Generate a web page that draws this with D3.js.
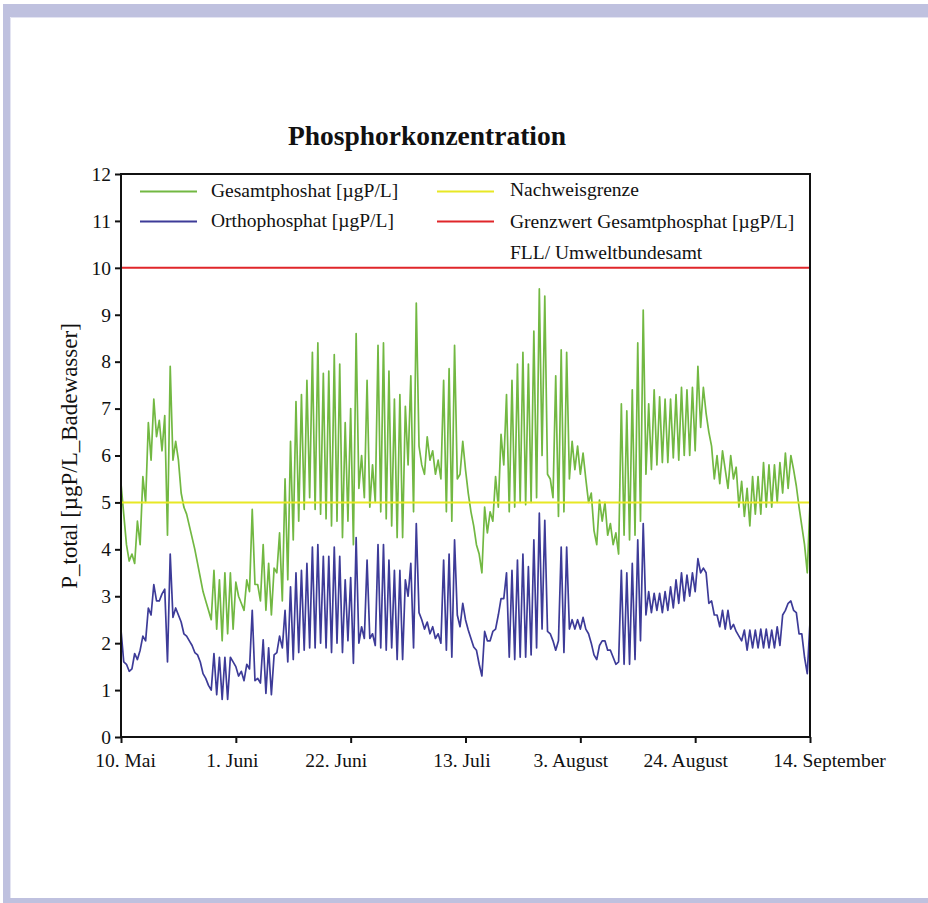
<!DOCTYPE html>
<html>
<head>
<meta charset="utf-8">
<script src="https://cdn.jsdelivr.net/npm/d3@7"></script>
<style>
  html, body { margin: 0; padding: 0; background: #fff; }
  svg { display: block; }
  text { font-family: "Liberation Serif", "Times New Roman", serif; fill: #111; }
</style>
</head>
<body>
<svg id="chart" width="928" height="903"></svg>
<script>
// ---------- data ----------
const title = "Phosphorkonzentration";
const yLabel = "P_total [µgP/L_Badewasser]";
const xTickDays = [0, 21, 42, 63, 84, 105, 126];
const xTickLabels = ["10. Mai", "1. Juni", "22. Juni", "13. Juli", "3. August", "24. August", "14. September"];
const yTicks = [0,1,2,3,4,5,6,7,8,9,10,11,12];
const stepDays = 0.5; // one reading every 12 hours, starting 10. Mai

// Gesamtphosphat [µgP/L], every 12 h
const gesamtphosphat = [
  5.4, 4.75, 4.1, 3.75, 3.9, 3.7, 4.6, 4.1, 5.55, 5.0,      // day 0-4.5
  6.7, 5.9, 7.2, 6.4, 6.75, 6.1, 6.85, 4.3, 7.9, 5.9,       // 5-9.5
  6.3, 5.9, 5.2, 4.9, 4.75, 4.5, 4.25, 4.0, 3.7, 3.4,       // 10-14.5
  3.1, 2.9, 2.7, 2.5, 3.55, 2.3, 3.35, 2.05, 3.5, 2.2,      // 15-19.5
  3.5, 2.3, 3.3, 3.0, 2.85, 2.7, 3.35, 3.1, 4.85, 3.25,     // 20-24.5
  3.25, 2.9, 4.1, 2.7, 3.7, 2.6, 3.6, 3.5, 4.35, 2.9,       // 25-29.5
  5.5, 3.35, 6.3, 4.2, 7.15, 4.6, 7.3, 4.85, 7.6, 5.1,      // 30-34.5
  8.2, 4.85, 8.4, 4.75, 7.75, 4.65, 7.8, 4.5, 8.15, 4.6,    // 35-39.5
  7.95, 4.25, 6.7, 4.6, 7.0, 4.1, 8.6, 5.3, 6.0, 5.1,       // 40-44.5
  7.6, 4.9, 5.8, 5.0, 8.35, 4.8, 8.4, 4.65, 7.8, 4.5,       // 45-49.5
  7.2, 4.25, 7.3, 4.25, 7.05, 5.8, 7.7, 4.8, 9.25, 6.2,     // 50-54.5
  5.8, 5.6, 6.4, 5.9, 6.1, 5.6, 5.9, 5.5, 7.6, 4.8,         // 55-59.5
  7.85, 4.6, 8.35, 5.5, 5.6, 6.3, 5.7, 5.2, 4.8, 4.5,       // 60-64.5
  4.1, 3.9, 3.5, 4.9, 4.35, 4.8, 4.6, 5.55, 4.9, 6.45,      // 65-69.5
  5.8, 7.3, 4.8, 7.6, 4.9, 7.95, 5.0, 8.2, 4.95, 7.95,      // 70-74.5
  5.0, 8.65, 5.1, 9.55, 6.0, 9.4, 5.6, 5.5, 5.1, 7.7,       // 75-79.5
  4.7, 8.25, 4.8, 8.2, 5.5, 6.3, 5.7, 6.2, 5.6, 6.05,       // 80-84.5
  5.5, 5.0, 5.2, 4.4, 4.1, 5.05, 4.6, 5.0, 4.3, 4.55,       // 85-89.5
  4.1, 4.35, 3.9, 7.1, 4.3, 6.95, 4.2, 7.4, 4.3, 8.4,       // 90-94.5
  4.6, 9.1, 5.6, 7.1, 5.7, 7.4, 5.8, 7.25, 5.85, 7.2,       // 95-99.5
  5.85, 7.2, 5.95, 7.3, 5.9, 7.45, 6.0, 7.4, 6.0, 7.45,     // 100-104.5
  6.1, 7.9, 6.6, 7.45, 6.9, 6.5, 6.2, 5.5, 6.0, 5.4,        // 105-109.5
  6.1, 5.7, 5.3, 6.0, 5.5, 5.75, 4.9, 5.45, 4.7, 5.3,       // 110-114.5
  4.5, 5.55, 4.75, 5.55, 4.75, 5.85, 4.9, 5.8, 4.9, 5.8,    // 115-119.5
  5.0, 5.85, 5.2, 6.05, 5.3, 6.0, 5.7, 5.35, 4.9, 4.5,      // 120-124.5
  4.1, 3.5, 5.0                                              // 125-126
];

// Orthophosphat [µgP/L], every 12 h
const orthophosphat = [
  2.28, 1.6, 1.55, 1.4, 1.45, 1.78, 1.65, 1.85, 2.15, 2.05, // day 0-4.5
  2.75, 2.6, 3.25, 2.9, 2.9, 3.05, 3.15, 1.6, 3.9, 2.55,    // 5-9.5
  2.75, 2.6, 2.45, 2.2, 2.15, 2.05, 1.95, 1.8, 1.75, 1.6,   // 10-14.5
  1.35, 1.25, 1.1, 1.0, 1.78, 0.9, 1.7, 0.8, 1.7, 0.8,      // 15-19.5
  1.7, 1.6, 1.5, 1.3, 1.4, 1.2, 1.55, 1.45, 2.7, 1.2,       // 20-24.5
  1.25, 1.15, 2.07, 0.93, 1.9, 0.9, 1.75, 1.8, 2.15, 1.9,   // 25-29.5
  2.7, 1.6, 3.2, 1.65, 3.5, 1.8, 3.55, 1.85, 3.7, 1.9,      // 30-34.5
  4.05, 1.9, 4.1, 2.0, 3.85, 1.9, 3.85, 1.8, 4.05, 2.0,     // 35-39.5
  3.85, 1.8, 3.35, 2.05, 3.4, 1.57, 4.25, 2.0, 2.35, 2.1,   // 40-44.5
  3.77, 2.1, 2.2, 1.95, 4.1, 1.9, 4.1, 1.85, 3.77, 1.9,     // 45-49.5
  3.55, 1.65, 3.55, 1.65, 3.35, 3.0, 3.7, 1.9, 4.55, 2.65,  // 50-54.5
  2.5, 2.3, 2.45, 2.2, 2.35, 2.1, 2.2, 2.0, 3.77, 1.85,     // 55-59.5
  3.9, 1.7, 4.2, 2.6, 2.35, 2.85, 2.5, 2.28, 2.1, 1.92,     // 60-64.5
  1.85, 1.55, 1.3, 2.25, 2.05, 2.05, 2.25, 2.3, 2.6, 2.95,  // 65-69.5
  2.95, 3.5, 1.7, 3.55, 1.65, 3.77, 1.7, 3.9, 1.7, 3.63,    // 70-74.5
  1.75, 4.2, 1.9, 4.77, 2.3, 4.62, 2.25, 2.2, 2.05, 1.85,   // 75-79.5
  2.05, 4.05, 1.8, 4.05, 2.3, 2.5, 2.3, 2.5, 2.3, 2.55,     // 80-84.5
  2.3, 2.2, 2.0, 1.75, 1.65, 1.95, 2.05, 2.05, 1.85, 1.85,  // 85-89.5
  1.7, 1.55, 1.6, 3.55, 1.55, 3.5, 1.55, 3.7, 1.65, 4.2,    // 90-94.5
  2.05, 4.55, 2.6, 3.1, 2.65, 3.06, 2.7, 3.06, 2.65, 3.1,   // 95-99.5
  2.7, 3.2, 2.75, 3.35, 2.85, 3.5, 2.9, 3.45, 3.0, 3.5,     // 100-104.5
  3.1, 3.8, 3.5, 3.6, 3.5, 2.85, 2.9, 2.6, 2.6, 2.35,       // 105-109.5
  2.7, 2.3, 2.7, 2.3, 2.4, 2.25, 2.15, 2.05, 2.28, 1.85,    // 110-114.5
  2.28, 1.9, 2.28, 1.9, 2.3, 1.9, 2.3, 1.9, 2.28, 1.9,      // 115-119.5
  2.35, 1.95, 2.6, 2.7, 2.85, 2.9, 2.7, 2.65, 2.2, 2.2,     // 120-124.5
  1.7, 1.35, 2.45                                            // 125-126
];

const nachweisgrenze = 5;   // detection limit
const grenzwert = 10;       // limit value

const legendLabels = ["Gesamtphoshat [µgP/L]", "Orthophosphat [µgP/L]", "Nachweisgrenze", "Grenzwert Gesamtphosphat [µgP/L]", "FLL/ Umweltbundesamt"];

// ---------- styles ----------
const colGreen = "#72b842";
const colBlue = "#3d3b98";
const colYellow = "#e8e825";
const colRed = "#e0262a";
const frameCol = "#bfc1df";
const xLabelShift = [4, -4, -15, -4, -10, -10, 19]; // label offsets as in the original layout

// ---------- drawing ----------
const svg = d3.select("#chart");
const W = 928, H = 903;
svg.append("rect").attr("width", W).attr("height", H).attr("fill", "#fff");
// lavender frame
svg.append("rect").attr("x", 3).attr("y", 4).attr("width", W - 3).attr("height", 13).attr("fill", frameCol);
svg.append("rect").attr("x", 3).attr("y", 4).attr("width", 7).attr("height", H - 4).attr("fill", frameCol);
svg.append("rect").attr("x", 3).attr("y", 898).attr("width", W - 3).attr("height", 5).attr("fill", frameCol);
svg.append("path").attr("d", `M10.5,${H-5}V17.5H${W}`).attr("fill", "none").attr("stroke", "#e3e4f2").attr("stroke-width", 1);

const pLeft = 121, pRight = 810, pTop = 174, pBottom = 737;
const x = d3.scaleLinear().domain([0, 126]).range([pLeft, pRight]);
const y = d3.scaleLinear().domain([0, 12]).range([pBottom, pTop]);

// title
svg.append("text").attr("x", 427).attr("y", 145)
  .attr("text-anchor", "middle").style("font-weight", "bold").style("font-size", "27.5px")
  .text(title);

// y-axis label
svg.append("text").attr("transform", `translate(77,456) rotate(-90)`)
  .attr("text-anchor", "middle").style("font-size", "23px")
  .text(yLabel);

// reference lines
const refLine = (v, c) => svg.append("line").attr("x1", pLeft).attr("x2", pRight)
  .attr("y1", y(v)).attr("y2", y(v)).attr("stroke", c).attr("stroke-width", 2);

const line = d3.line().x((d, i) => x(i * stepDays)).y(d => y(d));

refLine(grenzwert, colRed);
svg.append("path").datum(gesamtphosphat).attr("d", line).attr("fill", "none")
  .attr("stroke", colGreen).attr("stroke-width", 1.7).attr("stroke-linejoin", "round");
svg.append("path").datum(orthophosphat).attr("d", line).attr("fill", "none")
  .attr("stroke", colBlue).attr("stroke-width", 1.7).attr("stroke-linejoin", "round");
refLine(nachweisgrenze, colYellow);

// axes
const xAxis = d3.axisBottom(x).tickValues(xTickDays).tickFormat((d, i) => xTickLabels[i])
  .tickSize(6).tickSizeOuter(0).tickPadding(10);
const yAxis = d3.axisLeft(y).tickValues(yTicks).tickFormat(d3.format("d"))
  .tickSize(6).tickSizeOuter(0).tickPadding(4);

const gx = svg.append("g").attr("transform", `translate(0,${pBottom})`).call(xAxis);
const gy = svg.append("g").attr("transform", `translate(${pLeft},0)`).call(yAxis);
[gx, gy].forEach(g => {
  g.select(".domain").remove();
  g.selectAll(".tick line").attr("stroke", "#111").attr("stroke-width", 2);
  g.selectAll(".tick text").style("font-size", "19.5px").attr("fill", "#111")
    .style("font-family", '"Liberation Serif", "Times New Roman", serif');
});
gx.selectAll(".tick text").attr("dx", (d, i) => xLabelShift[i]);

// plot frame
svg.append("rect").attr("x", pLeft).attr("y", pTop).attr("width", pRight - pLeft).attr("height", pBottom - pTop)
  .attr("fill", "none").attr("stroke", "#111").attr("stroke-width", 2);

// legend
const legendItems = [
  { col: colGreen, x0: 140, x1: 197, ly: 191.5, tx: 211, ty: 197, label: legendLabels[0] },
  { col: colBlue, x0: 140, x1: 197, ly: 221.5, tx: 211, ty: 227, label: legendLabels[1] },
  { col: colYellow, x0: 437, x1: 494, ly: 191.5, tx: 510, ty: 196, label: legendLabels[2] },
  { col: colRed, x0: 437, x1: 494, ly: 221.5, tx: 510, ty: 228, label: legendLabels[3] },
  { col: null, tx: 510, ty: 259, label: legendLabels[4] }
];
const lg = svg.append("g");
legendItems.forEach(it => {
  if (it.col) lg.append("line").attr("x1", it.x0).attr("x2", it.x1).attr("y1", it.ly).attr("y2", it.ly)
    .attr("stroke", it.col).attr("stroke-width", 2);
  lg.append("text").attr("x", it.tx).attr("y", it.ty).style("font-size", "19.5px").text(it.label);
});
</script>
</body>
</html>
